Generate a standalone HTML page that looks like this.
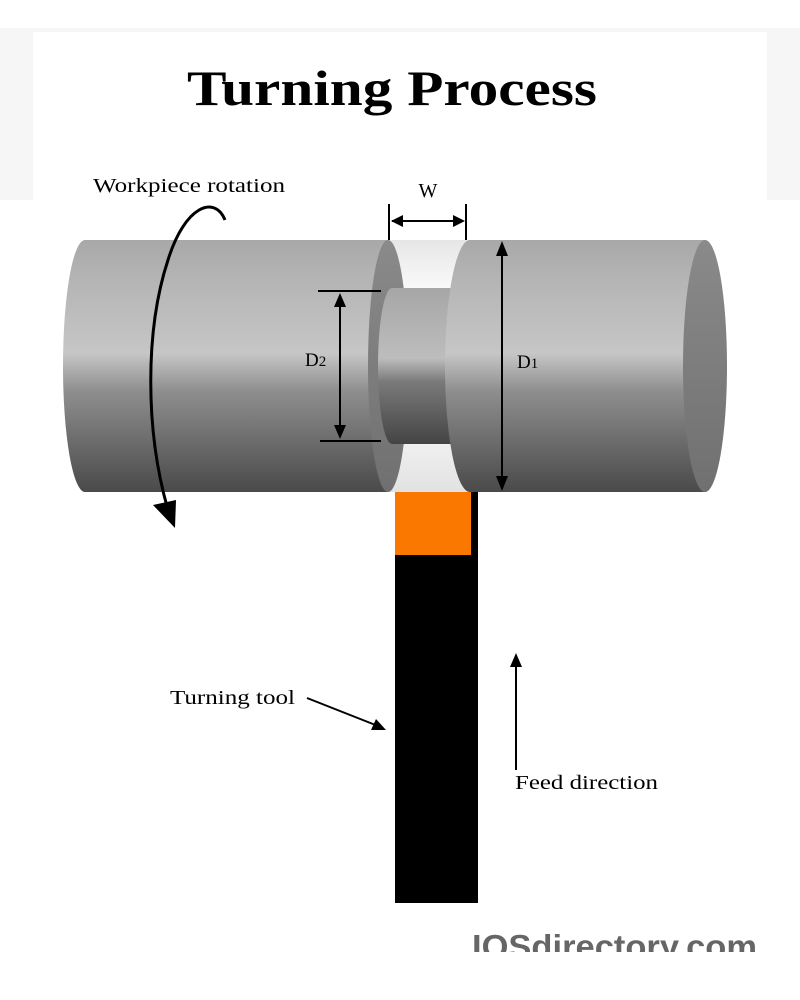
<!DOCTYPE html>
<html><head><style>
body{margin:0;width:800px;height:1000px;background:#fff;position:relative;overflow:hidden;font-family:"Liberation Serif",serif}
</style></head><body>
<svg width="800" height="1000" xmlns="http://www.w3.org/2000/svg" style="position:absolute;left:0;top:0">
<defs>
<linearGradient id="cyl" x1="0" y1="0" x2="0" y2="1">
<stop offset="0" stop-color="#a8a8a8"/><stop offset="0.15" stop-color="#b4b4b4"/><stop offset="0.45" stop-color="#c6c6c6"/><stop offset="0.6" stop-color="#8e8e8e"/><stop offset="1" stop-color="#4a4a4a"/>
</linearGradient>
<linearGradient id="small" x1="0" y1="0" x2="0" y2="1">
<stop offset="0" stop-color="#a6a6a6"/><stop offset="0.45" stop-color="#bdbdbd"/><stop offset="0.6" stop-color="#7a7a7a"/><stop offset="1" stop-color="#444"/>
</linearGradient>
<linearGradient id="groove" x1="0" y1="0" x2="0" y2="1">
<stop offset="0" stop-color="#e6e6e6"/><stop offset="0.2" stop-color="#fafafa"/><stop offset="0.8" stop-color="#f0f0f0"/><stop offset="1" stop-color="#e2e2e2"/>
</linearGradient>
<linearGradient id="face" x1="0" y1="0" x2="0" y2="1">
<stop offset="0" stop-color="#8a8a8a"/><stop offset="1" stop-color="#707070"/>
</linearGradient>
</defs>
<rect x="0" y="28" width="800" height="172" fill="#f6f6f6"/>
<rect x="33" y="32" width="734" height="940" fill="#fff"/>
<text x="187" y="105" font-size="50" font-weight="bold" textLength="410" lengthAdjust="spacingAndGlyphs" fill="#000">Turning Process</text>
<text x="93" y="192" font-size="20" textLength="192" lengthAdjust="spacingAndGlyphs">Workpiece rotation</text>
<text x="428" y="197" font-size="20" text-anchor="middle">W</text>
<rect x="385" y="240" width="90" height="252" fill="url(#groove)"/>
<path d="M85 240 H388 V492 H85 A22 126 0 0 1 85 240 Z" fill="url(#cyl)"/>
<ellipse cx="388" cy="366" rx="20" ry="126" fill="url(#face)"/>
<path d="M392 288 H455 V444 H392 A14 78 0 0 1 392 288 Z" fill="url(#small)"/>
<path d="M470 240 H705 V492 H470 A25 126 0 0 1 470 240 Z" fill="url(#cyl)"/>
<ellipse cx="705" cy="366" rx="22" ry="126" fill="url(#face)"/>
<rect x="395" y="492" width="83" height="411" fill="#000"/>
<rect x="395" y="492" width="76" height="63" fill="#fa7800"/>
<g stroke="#000" stroke-width="2" fill="none">
<line x1="389" y1="204" x2="389" y2="240"/><line x1="466" y1="204" x2="466" y2="240"/>
<line x1="392" y1="221" x2="463" y2="221"/>
<line x1="318" y1="291" x2="381" y2="291"/><line x1="320" y1="441" x2="381" y2="441"/>
<line x1="340" y1="296" x2="340" y2="436"/>
<line x1="502" y1="245" x2="502" y2="487"/>
<path d="M225 220 C215 195 185 205 168 260 C145 330 145 430 168 510" stroke-width="3"/>
<line x1="307" y1="698" x2="378" y2="726"/>
<line x1="516" y1="665" x2="516" y2="770"/>
</g>
<g fill="#000">
<polygon points="391,221 403,215 403,227"/><polygon points="465,221 453,215 453,227"/>
<polygon points="340,293 334,307 346,307"/><polygon points="340,439 334,425 346,425"/>
<polygon points="502,241 496,256 508,256"/><polygon points="502,491 496,476 508,476"/>
<polygon points="175,528 153,505 176,500"/>
<polygon points="386,730 371,730 376,719"/>
<polygon points="516,653 510,667 522,667"/>
</g>
<text x="305" y="366" font-size="19">D<tspan font-size="15">2</tspan></text>
<text x="517" y="368" font-size="19">D<tspan font-size="15">1</tspan></text>
<text x="170" y="704" font-size="20" textLength="125" lengthAdjust="spacingAndGlyphs">Turning tool</text>
<text x="515" y="789" font-size="20" textLength="143" lengthAdjust="spacingAndGlyphs">Feed direction</text>
<text x="472" y="958" font-family="Liberation Sans,sans-serif" font-size="33" font-weight="bold" fill="#666" textLength="285" lengthAdjust="spacingAndGlyphs">IQSdirectory.com</text>
<rect x="440" y="952" width="360" height="48" fill="#fff"/>
</svg>
</body></html>
